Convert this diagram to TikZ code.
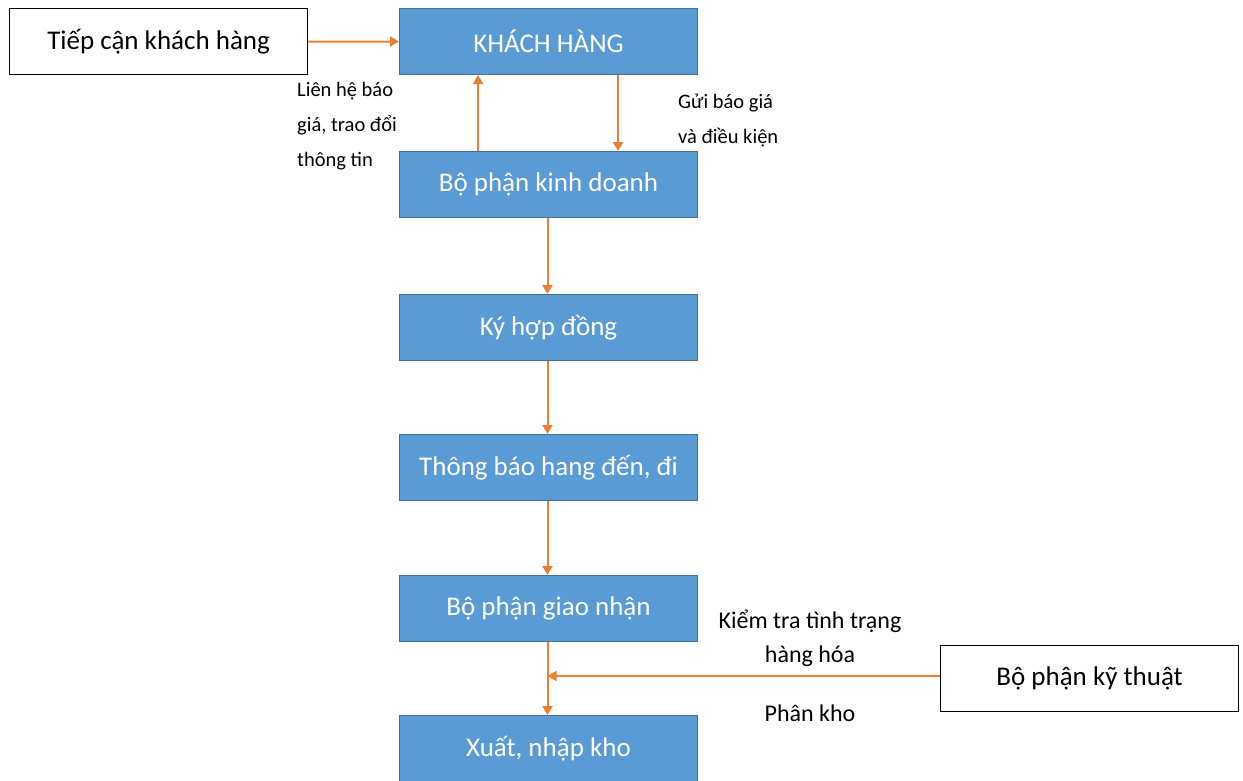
\documentclass[tikz,border=0pt]{standalone}
\usepackage{fontspec}
\setmainfont{Carlito}
\usetikzlibrary{arrows.meta}
\definecolor{boxblue}{HTML}{5B9BD5}
\definecolor{boxedge}{HTML}{41719C}
\definecolor{flow}{HTML}{ED7D31}
\begin{document}
\begin{tikzpicture}[x=1pt,y=-1pt,
  big/.style={font=\fontsize{27}{32}\selectfont},
  mid/.style={font=\fontsize{24}{34}\selectfont},
  small/.style={font=\fontsize{20.5}{35}\selectfont},
  stage/.style={draw=boxedge,line width=1pt,fill=boxblue,text=white,
    minimum width=298pt,minimum height=66pt,anchor=north west,inner sep=0pt,big},
  plain/.style={draw=black,line width=1.2pt,fill=white,
    minimum width=298pt,minimum height=66pt,anchor=north west,inner sep=0pt,big},
  link/.style={draw=flow,line width=2pt,-{Triangle[length=9pt,width=10pt]}},
  note/.style={small,inner sep=0pt,align=left}]
\useasboundingbox (0,0) rectangle (1243,780);
% main column
\node[stage] (kh)  at (399,8)   {KHÁCH HÀNG};
\node[stage] (kd)  at (399,151) {Bộ phận kinh doanh};
\node[stage] (hd)  at (399,294) {Ký hợp đồng};
\node[stage] (tb)  at (399,434) {Thông báo hang đến, đi};
\node[stage] (gn)  at (399,575) {Bộ phận giao nhận};
\node[stage] (xk)  at (399,715) {Xuất, nhập kho};
% side boxes
\node[plain] (tc)  at (9,8)     {Tiếp cận khách hàng};
\node[plain] (kt)  at (940,645) {Bộ phận kỹ thuật};
% connectors
\draw[link] (kd.north west)++(79,0) coordinate (up1) -- (up1 |- kh.south);
\draw[link] (kh.south west)++(219,0) coordinate (dn1) -- (dn1 |- kd.north);
\draw[link] (tc.east) -- (kh.west);
\draw[link] (kd.south) ++(-1,0) coordinate (a1) -- (a1 |- hd.north);
\draw[link] (hd.south) ++(-1,0) coordinate (a2) -- (a2 |- tb.north);
\draw[link] (tb.south) ++(-1,0) coordinate (a3) -- (a3 |- gn.north);
\draw[link] (gn.south) ++(-1,0) coordinate (a4) -- (a4 |- xk.north);
\draw[link] (kt.west |- 0,676) coordinate (kw) -- (a4 |- kw);
% labels
\node[note,anchor=north west] (l1) at (297,82) {Liên hệ báo\\giá, trao đổi\\thông tin};
\node[note,anchor=north west] (l2) at (678,94) {Gửi báo giá\\và điều kiện};
\node[mid,inner sep=0pt,align=center] (l3) at (810,638) {Kiểm tra tình trạng\\hàng hóa};
\node[mid,inner sep=0pt] (l4) at (810,713) {Phân kho};
\end{tikzpicture}
\end{document}
